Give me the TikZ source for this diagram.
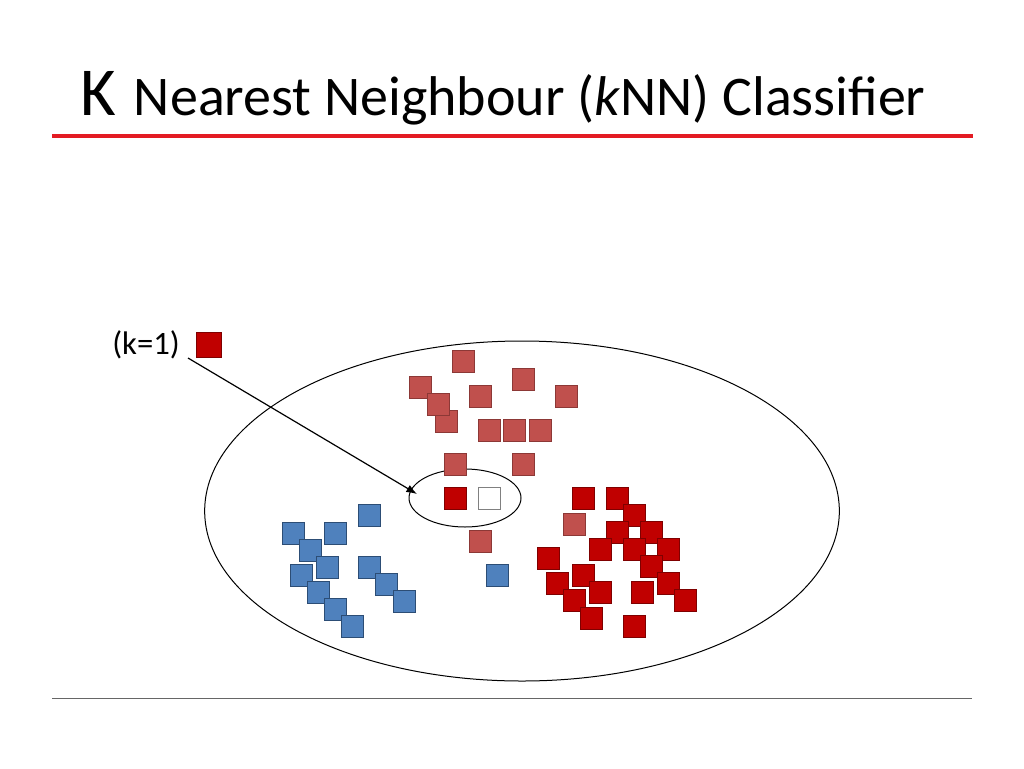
\documentclass[tikz,border=0pt]{standalone}
\usepackage{fontspec}
\setmainfont{Carlito}
\usepackage{xcolor}
\usepackage{tikz}
\usetikzlibrary{shapes.geometric,arrows.meta}

\definecolor{nearred}{HTML}{C00000}
\definecolor{nearredline}{HTML}{7F0000}
\definecolor{farred}{HTML}{C0504D}
\definecolor{farredline}{HTML}{8C3836}
\definecolor{blueclass}{HTML}{4F81BD}
\definecolor{blueline}{HTML}{2C4D75}
\definecolor{rulered}{HTML}{E31B23}

\begin{document}
\begin{tikzpicture}
		[
			x=0.75pt,y=-0.75pt,
			every node/.style={inner sep=0pt},
			sample/.style={draw,line width=0.75pt,minimum size=16.5pt},
			redsq/.style={sample,fill=nearred,draw=nearredline},
			pinksq/.style={sample,fill=farred,draw=farredline},
			bluesq/.style={sample,fill=blueclass,draw=blueline},
			querysq/.style={sample,fill=white,draw=gray}]
		\useasboundingbox (0,0) rectangle (1024,768);
		% title and rules
		\node[anchor=base west] (Title) at (80,115)
			{{\fontsize{51.5}{56}\selectfont K}\hspace{13.5pt}\fontsize{42}{48}\selectfont Nearest Neighbour (\textit{k}NN) Classifier};
		\draw[rulered,line width=2.4pt] (52,136) -- (973,136);
		\draw[gray!80!black,line width=0.75pt] (52,698) -- (972,698);
		% feature space and neighbourhood
		\node[draw,ellipse,line width=0.75pt,minimum width=476pt,minimum height=255pt] (Space) at (522,511) {};
		\node[draw,ellipse,line width=0.75pt,minimum width=84pt,minimum height=43.5pt] (Hood) at (465,498) {};
		% far red class
		\foreach \x/\y [count=\i] in {463/361,420/387,446/421,438/404,480/396,523/379,566/396,
				489/430,514/430,540/430,455/464,523/464,480/541,574/524}
			\node[pinksq] (P\i) at (\x,\y) {};
		% blue class
		\foreach \x/\y [count=\i] in {369/515,293/533,335/533,310/550,301/575,327/567,318/592,
				335/609,352/626,369/567,386/584,404/601,497/575}
			\node[bluesq] (B\i) at (\x,\y) {};
		% near red class
		\foreach \x/\y [count=\i] in {455/498,583/498,617/498,634/515,617/532,651/532,600/549,
				634/549,668/549,548/558,651/566,583/575,557/583,668/583,600/592,642/592,
				574/600,685/600,591/618,634/626}
			\node[redsq] (R\i) at (\x,\y) {};
		% query point
		\node[querysq] (Query) at (489,498) {};
		% legend
		\node[anchor=base west] (Label) at (112,354) {\fontsize{24.5}{28}\selectfont (k=1)};
		\node[redsq,minimum size=19pt] (Key) at (209,345) {};
		\coordinate (Tail) at (188,358);
		\coordinate (Tip) at (417,494);
		\draw[-{Latex[length=8pt,width=6pt]},line width=0.9pt] (Tail) -- (Tip);
	\end{tikzpicture}
\end{document}
